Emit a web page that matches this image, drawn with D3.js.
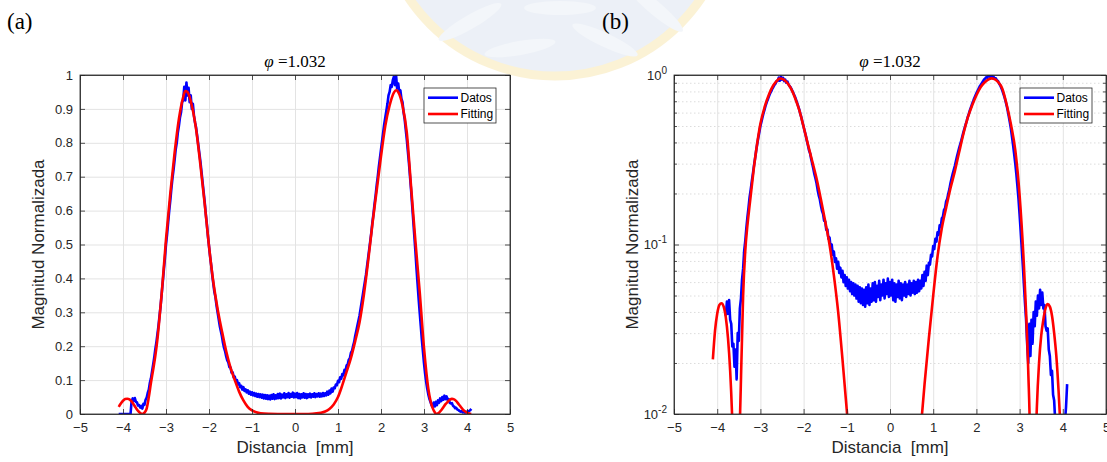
<!DOCTYPE html>
<html>
<head>
<meta charset="utf-8" />
<style>
  body { margin: 0; background: #fff; }
  svg { display: block; }
  .tick text { font-family: "Liberation Sans", Arial, sans-serif; font-size: 13px; fill: #262626; }
  .axis path, .axis line { stroke: #262626; stroke-width: 0.8px; }
  .grid line { stroke: #e3e3e3; stroke-width: 1px; }
  .grid path { stroke: none; }
  .minor line { stroke: #dcdcdc; stroke-width: 1px; stroke-dasharray: 1.5 2.5; }
</style>
<title>Datos vs Fitting</title>
</head>
<body>
<script src="https://cdn.jsdelivr.net/npm/d3@7"></script>
<script>
// ticks
const xTicks = [-5, -4, -3, -2, -1, 0, 1, 2, 3, 4, 5];
const linTicks = [0, 0.1, 0.2, 0.3, 0.4, 0.5, 0.6, 0.7, 0.8, 0.9, 1];
const logTicks = [0.01, 0.1, 1];
const logExps = ["-2", "-1", "0"];
const logMinor = [0.02, 0.03, 0.04, 0.05, 0.06, 0.07, 0.08, 0.09, 0.2, 0.3, 0.4, 0.5, 0.6, 0.7, 0.8, 0.9];

// Datos: measured profile, sampled every 0.025 mm from -4.1 mm
const datosX0 = -4.1;
const datosDx = 0.025;
const datosY = [
  0, 0, 0, 0, 0, 0, 0, 0, 0, 0,
  0, 0, 0.038, 0.046, 0.039, 0.047, 0.036, 0.034, 0.025, 0.026,
  0.019, 0.024, 0.016, 0.030, 0.027, 0.042, 0.048, 0.062, 0.072, 0.092,
  0.105, 0.125, 0.145, 0.165, 0.19, 0.21, 0.235, 0.26, 0.29, 0.32,
  0.355, 0.39, 0.425, 0.46, 0.50, 0.53, 0.565, 0.60, 0.63, 0.665,
  0.695, 0.72, 0.75, 0.78, 0.80, 0.83, 0.85, 0.875, 0.89, 0.92,
  0.925, 0.965, 0.925, 0.978, 0.94, 0.962, 0.92, 0.94, 0.90, 0.915,
  0.88, 0.86, 0.845, 0.82, 0.795, 0.77, 0.745, 0.715, 0.685, 0.655,
  0.625, 0.59, 0.56, 0.525, 0.495, 0.465, 0.44, 0.41, 0.385, 0.36,
  0.345, 0.32, 0.30, 0.28, 0.26, 0.245, 0.23, 0.21, 0.195, 0.185,
  0.17, 0.158, 0.152, 0.138, 0.137, 0.122, 0.123, 0.108, 0.110, 0.096,
  0.100, 0.087, 0.091, 0.079, 0.083, 0.072, 0.079, 0.068, 0.073, 0.064,
  0.070, 0.060, 0.066, 0.057, 0.064, 0.055, 0.062, 0.053, 0.060, 0.051,
  0.059, 0.050, 0.058, 0.048, 0.057, 0.046, 0.056, 0.045, 0.055, 0.044,
  0.054, 0.043, 0.056, 0.045, 0.058, 0.044, 0.055, 0.046, 0.059, 0.047,
  0.060, 0.046, 0.057, 0.049, 0.061, 0.047, 0.058, 0.050, 0.062, 0.048,
  0.059, 0.051, 0.063, 0.049, 0.060, 0.050, 0.062, 0.047, 0.059, 0.046,
  0.058, 0.049, 0.061, 0.048, 0.059, 0.047, 0.058, 0.050, 0.060, 0.049,
  0.058, 0.051, 0.061, 0.050, 0.059, 0.052, 0.061, 0.051, 0.060, 0.052,
  0.062, 0.053, 0.061, 0.055, 0.066, 0.057, 0.069, 0.061, 0.075, 0.066,
  0.078, 0.076, 0.087, 0.085, 0.098, 0.094, 0.108, 0.104, 0.118, 0.114,
  0.130, 0.127, 0.143, 0.146, 0.160, 0.164, 0.180, 0.186, 0.20, 0.212,
  0.23, 0.245, 0.26, 0.275, 0.29, 0.31, 0.33, 0.35, 0.37, 0.39,
  0.41, 0.435, 0.46, 0.485, 0.51, 0.535, 0.565, 0.59, 0.62, 0.645,
  0.675, 0.70, 0.73, 0.755, 0.78, 0.805, 0.83, 0.855, 0.875, 0.895,
  0.915, 0.94, 0.95, 0.97, 0.965, 0.985, 0.995, 0.97, 1.0, 0.96,
  0.975, 0.95, 0.955, 0.93, 0.92, 0.89, 0.87, 0.84, 0.81, 0.775,
  0.74, 0.70, 0.66, 0.615, 0.57, 0.525, 0.48, 0.43, 0.385, 0.34,
  0.30, 0.26, 0.22, 0.185, 0.15, 0.12, 0.095, 0.075, 0.058, 0.045,
  0.036, 0.026, 0.020, 0.034, 0.022, 0.036, 0.026, 0.040, 0.033, 0.046,
  0.038, 0.050, 0.042, 0.054, 0.044, 0.052, 0.042, 0.044, 0.033, 0.031,
  0.032, 0.024, 0.022, 0.017, 0.018, 0.013, 0.012, 0.009, 0.007, 0.008,
  0.005, 0.007, 0.004, 0.006, 0.007, 0.008, 0.009, 0.011, 0.015
];

// Fitting curve
const fitX = [
  -4.10, -4.05, -4.00, -3.95, -3.90, -3.85, -3.80, -3.75, -3.70, -3.65,
  -3.60, -3.55, -3.50, -3.45, -3.40, -3.35, -3.30, -3.25, -3.20, -3.15,
  -3.10, -3.00, -2.90, -2.80, -2.70, -2.60, -2.55, -2.50, -2.40, -2.30,
  -2.20, -2.10, -2.00, -1.90, -1.80, -1.70, -1.60, -1.50, -1.40, -1.30,
  -1.20, -1.10, -1.00, -0.90, -0.80, -0.60, -0.40, -0.20, 0.00, 0.20,
  0.40, 0.50, 0.60, 0.70, 0.80, 0.90, 1.00, 1.10, 1.20, 1.30,
  1.40, 1.50, 1.60, 1.70, 1.80, 1.90, 2.00, 2.10, 2.20, 2.30,
  2.35, 2.40, 2.50, 2.60, 2.70, 2.80, 2.90, 3.00, 3.10, 3.15,
  3.20, 3.25, 3.28, 3.30, 3.35, 3.40, 3.45, 3.50, 3.55, 3.60,
  3.65, 3.70, 3.75, 3.80, 3.85, 3.90, 3.95, 4.00, 4.05, 4.10
];
const fitY = [
  0.021, 0.031, 0.039, 0.044, 0.045, 0.043, 0.037, 0.028, 0.018, 0.009,
  0.003, 0.0002, 0.004, 0.016, 0.050, 0.092, 0.13, 0.17, 0.22, 0.285,
  0.355, 0.515, 0.65, 0.77, 0.87, 0.935, 0.953, 0.95, 0.91, 0.84,
  0.735, 0.62, 0.495, 0.39, 0.31, 0.245, 0.185, 0.137, 0.10, 0.066,
  0.040, 0.021, 0.0105, 0.005, 0.0022, 0.0006, 0.00015, 0.0001, 0.0001, 0.0002,
  0.0008, 0.0018, 0.0038, 0.0075, 0.015, 0.028, 0.050, 0.085, 0.125, 0.165,
  0.215, 0.27, 0.35, 0.45, 0.56, 0.66, 0.76, 0.85, 0.91, 0.948,
  0.955, 0.95, 0.91, 0.83, 0.67, 0.51, 0.36, 0.195, 0.075, 0.04,
  0.018, 0.005, 0.0002, 0.0006, 0.004, 0.011, 0.020, 0.029, 0.036, 0.042,
  0.0445, 0.043, 0.038, 0.030, 0.022, 0.014, 0.008, 0.004, 0.0015, 0.0002
];

const datos = datosY.map((y, i) => ({ x: datosX0 + i * datosDx, y: y }));
const fit = fitX.map((x, i) => ({ x: x, y: fitY[i] }));

const W = 1107, H = 462;
const svg = d3.select("body").append("svg").attr("width", W).attr("height", H);

// faint watermark logo behind everything
const wm = svg.append("g").attr("opacity", 0.5);
wm.append("circle").attr("cx", 555).attr("cy", -100).attr("r", 176)
  .attr("fill", "#dae3f0").attr("stroke", "#f8e6ad").attr("stroke-width", 9);
[[470, 22, -30], [520, 48, -10], [605, 40, 25], [655, 8, 40], [560, 8, 0]].forEach(function (l) {
  wm.append("ellipse").attr("cx", l[0]).attr("cy", l[1]).attr("rx", 36).attr("ry", 7)
    .attr("transform", `rotate(${l[2]},${l[0]},${l[1]})`).attr("fill", "#e9eef6");
});

const serif = "'Liberation Serif', 'Times New Roman', serif";
const sans = "'Liberation Sans', Arial, sans-serif";

svg.append("text").attr("x", 7).attr("y", 29).attr("font-family", serif).attr("font-size", 23).text("(a)");
svg.append("text").attr("x", 602).attr("y", 29).attr("font-family", serif).attr("font-size", 23).text("(b)");

function panel(left, width, isLog, id) {
  const top = 75, h = 339;
  const g = svg.append("g").attr("transform", `translate(${left},${top})`);
  const x = d3.scaleLinear().domain([-5, 5]).range([0, width]);
  const y = isLog ? d3.scaleLog().domain([0.01, 1]).range([h, 0])
                  : d3.scaleLinear().domain([0, 1]).range([h, 0]);

  g.append("rect").attr("width", width).attr("height", h).attr("fill", "#fff");

  // grid
  if (isLog) {
    g.append("g").attr("class", "minor")
      .call(d3.axisLeft(y).tickValues(logMinor).tickSize(-width).tickFormat(""));
  }
  g.append("g").attr("class", "grid")
    .call(d3.axisLeft(y).tickValues(isLog ? logTicks : linTicks).tickSize(-width).tickFormat(""));
  g.append("g").attr("class", "grid").attr("transform", `translate(0,${h})`)
    .call(d3.axisBottom(x).tickValues(xTicks).tickSize(-h).tickFormat(""));

  // curves
  g.append("clipPath").attr("id", "clip" + id).append("rect").attr("width", width).attr("height", h);
  const plot = g.append("g").attr("clip-path", `url(#clip${id})`);
  const yv = (v) => isLog ? y(Math.max(v, 1e-5)) : y(v);
  const lineD = d3.line().x(d => x(d.x)).y(d => yv(d.y));
  if (isLog) lineD.defined(d => d.y > 0);
  plot.append("path").datum(datos).attr("d", lineD)
    .attr("fill", "none").attr("stroke", "#0000ff").attr("stroke-width", 2.6).attr("stroke-linejoin", "round");
  plot.append("path").datum(fit).attr("d", d3.line().curve(d3.curveMonotoneX).x(d => x(d.x)).y(d => yv(d.y)))
    .attr("fill", "none").attr("stroke", "#ff0000").attr("stroke-width", 2.6);

  // axes with inward ticks
  const ax = g.append("g").attr("class", "axis").attr("transform", `translate(0,${h})`)
    .call(d3.axisBottom(x).tickValues(xTicks).tickSizeInner(-5).tickSizeOuter(0).tickPadding(10));
  g.append("g").attr("class", "axis")
    .call(d3.axisTop(x).tickValues(xTicks).tickSizeInner(-5).tickSizeOuter(0).tickFormat(""));
  const ayL = g.append("g").attr("class", "axis")
    .call(d3.axisLeft(y).tickValues(isLog ? logTicks : linTicks).tickSizeInner(-5).tickSizeOuter(0).tickPadding(7)
      .tickFormat(isLog ? "" : d3.format("~g")));
  g.append("g").attr("class", "axis").attr("transform", `translate(${width},0)`)
    .call(d3.axisRight(y).tickValues(isLog ? logTicks : linTicks).tickSizeInner(-5).tickSizeOuter(0).tickFormat(""));
  if (isLog) {
    g.append("g").attr("class", "axis")
      .call(d3.axisLeft(y).tickValues(logMinor).tickSizeInner(-3).tickSizeOuter(0).tickFormat(""))
      .select(".domain").remove();
    g.append("g").attr("class", "axis").attr("transform", `translate(${width},0)`)
      .call(d3.axisRight(y).tickValues(logMinor).tickSizeInner(-3).tickSizeOuter(0).tickFormat(""))
      .select(".domain").remove();
    ayL.selectAll(".tick text").each(function (d, i) {
      const t = d3.select(this);
      t.append("tspan").text("10");
      t.append("tspan").attr("dy", -6).attr("font-size", 10).text(logExps[i]);
    });
  }
  ax.selectAll(".tick text").attr("dy", "0.6em");

  // box
  g.append("rect").attr("width", width).attr("height", h)
    .attr("fill", "none").attr("stroke", "#262626").attr("stroke-width", 0.8);

  // title
  const tt = g.append("text").attr("x", width / 2).attr("y", -8).attr("text-anchor", "middle")
    .attr("font-family", serif).attr("font-size", 17).attr("fill", "#000");
  tt.append("tspan").attr("font-style", "italic").text("φ");
  tt.append("tspan").text(" =1.032");

  // axis labels
  g.append("text").attr("x", width / 2).attr("y", h + 39).attr("text-anchor", "middle")
    .attr("font-family", sans).attr("font-size", 17).attr("fill", "#262626").text("Distancia  [mm]")
    .attr("xml:space", "preserve").style("white-space", "pre");
  g.append("text").attr("transform", `translate(-36,${h / 2}) rotate(-90)`).attr("text-anchor", "middle")
    .attr("font-family", sans).attr("font-size", 17).attr("fill", "#262626").text("Magnitud Normalizada");

  // legend
  const lg = g.append("g").attr("transform", `translate(${width - 86},13)`);
  lg.append("rect").attr("width", 72).attr("height", 35).attr("fill", "#fff")
    .attr("stroke", "#262626").attr("stroke-width", 0.8);
  [["Datos", "#0000ff"], ["Fitting", "#ff0000"]].forEach(function (e, i) {
    const yy = 9.7 + i * 16.3;
    lg.append("line").attr("x1", 4).attr("x2", 34).attr("y1", yy).attr("y2", yy)
      .attr("stroke", e[1]).attr("stroke-width", 2.6);
    lg.append("text").attr("x", 36.5).attr("y", yy + 4.3).attr("font-family", sans).attr("font-size", 12)
      .attr("fill", "#000").text(e[0]);
  });
}

panel(80, 430, false, "a");
panel(674, 432, true, "b");
</script>
</body>
</html>
